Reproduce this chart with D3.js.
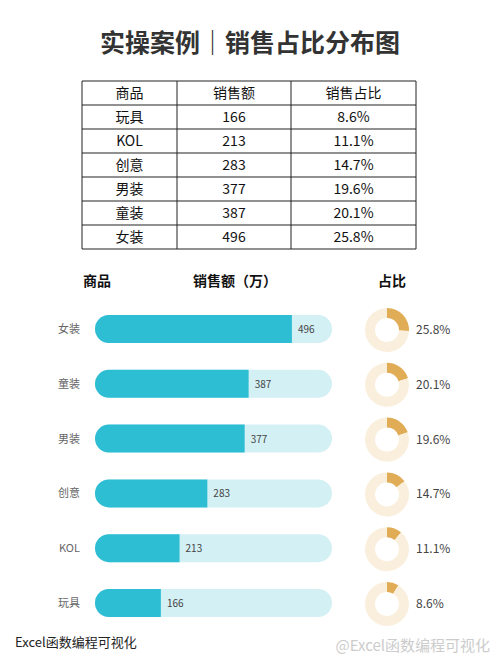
<!DOCTYPE html><html><head><meta charset="utf-8"><script src="https://cdn.jsdelivr.net/npm/d3@7"></script>
<style>body{margin:0;background:#fff}text{font-family:"Noto Sans CJK SC","Noto Sans",sans-serif}</style></head><body><svg id="c" width="500" height="667"></svg>
<script>
const categories=["玩具","KOL","创意","男装","童装","女装"];
const sales=[166,213,283,377,387,496];
const shares=[8.6,11.1,14.7,19.6,20.1,25.8];
const shareLabels=["8.6%","11.1%","14.7%","19.6%","20.1%","25.8%"];
const headers=["商品","销售额","销售占比"];
const svg=d3.select("#c");
svg.append("text").attr("x",250).attr("y",52).attr("text-anchor","middle").attr("font-size",25).attr("font-weight","bold").attr("fill","#333").text("实操案例｜销售占比分布图");
// table
const colX=[82,177,291,416],rowH=24,t0=81;
const rows=[headers].concat(categories.map((c,i)=>[c,String(sales[i]),shareLabels[i]]));
const tb=svg.append("g");
rows.forEach((r,i)=>{r.forEach((v,j)=>{tb.append("text").attr("x",(colX[j]+colX[j+1])/2).attr("y",t0+i*rowH+rowH/2+5).attr("text-anchor","middle").attr("font-size",14).attr("fill","#111").text(v);});});
for(let i=0;i<=rows.length;i++)tb.append("line").attr("x1",colX[0]).attr("x2",colX[3]).attr("y1",t0+i*rowH).attr("y2",t0+i*rowH).attr("stroke","#222");
colX.forEach(x=>tb.append("line").attr("x1",x).attr("x2",x).attr("y1",t0).attr("y2",t0+rows.length*rowH).attr("stroke","#222"));
// headers
[["商品",97],["销售额（万）",235],["占比",392]].forEach(([t,x])=>svg.append("text").attr("x",x).attr("y",286).attr("text-anchor","middle").attr("font-size",14).attr("font-weight","bold").attr("fill","#111").text(t));
const order=categories.map((c,i)=>i).reverse();
const y=d3.scalePoint().domain(order.map(i=>categories[i])).range([329,603]);
const x=d3.scaleLinear().domain([0,597]).range([95,332]);
const h=28,rr=14;
const pie=d3.pie().sort(null);
const arc=d3.arc().innerRadius(12).outerRadius(22);
order.forEach(i=>{
 const cy=y(categories[i]);
 svg.append("text").attr("x",80).attr("y",cy+4).attr("text-anchor","end").attr("font-size",11).attr("fill","#666").text(categories[i]);
 svg.append("rect").attr("x",x(0)).attr("y",cy-h/2).attr("width",x(597)-x(0)).attr("height",h).attr("rx",rr).attr("fill","#d3f0f5");
 const w=x(sales[i])-x(0);
 svg.append("path").attr("d",`M${x(0)+rr},${cy-h/2}H${x(sales[i])}V${cy+h/2}H${x(0)+rr}A${rr},${rr} 0 0 1 ${x(0)+rr},${cy-h/2}Z`).attr("fill","#2ebed3");
 svg.append("text").attr("x",x(sales[i])+6).attr("y",cy+4).attr("font-size",10).attr("fill","#444").text(sales[i]);
 const g=svg.append("g").attr("transform",`translate(387,${cy+1})`);
 g.selectAll("path").data(pie([shares[i],100-shares[i]])).join("path").attr("d",arc).attr("fill",(d,k)=>k?"#faefdc":"#e0ac55");
 svg.append("text").attr("x",416).attr("y",cy+5).attr("font-size",12).attr("fill","#444").text(shareLabels[i]);
});
svg.append("text").attr("x",15).attr("y",647).attr("font-size",13).attr("fill","#222").attr("font-family","serif").text("Excel函数编程可视化");
svg.append("text").attr("x",490).attr("y",651).attr("text-anchor","end").attr("font-size",15).attr("fill","#ccc").text("@Excel函数编程可视化");
</script></body></html>
